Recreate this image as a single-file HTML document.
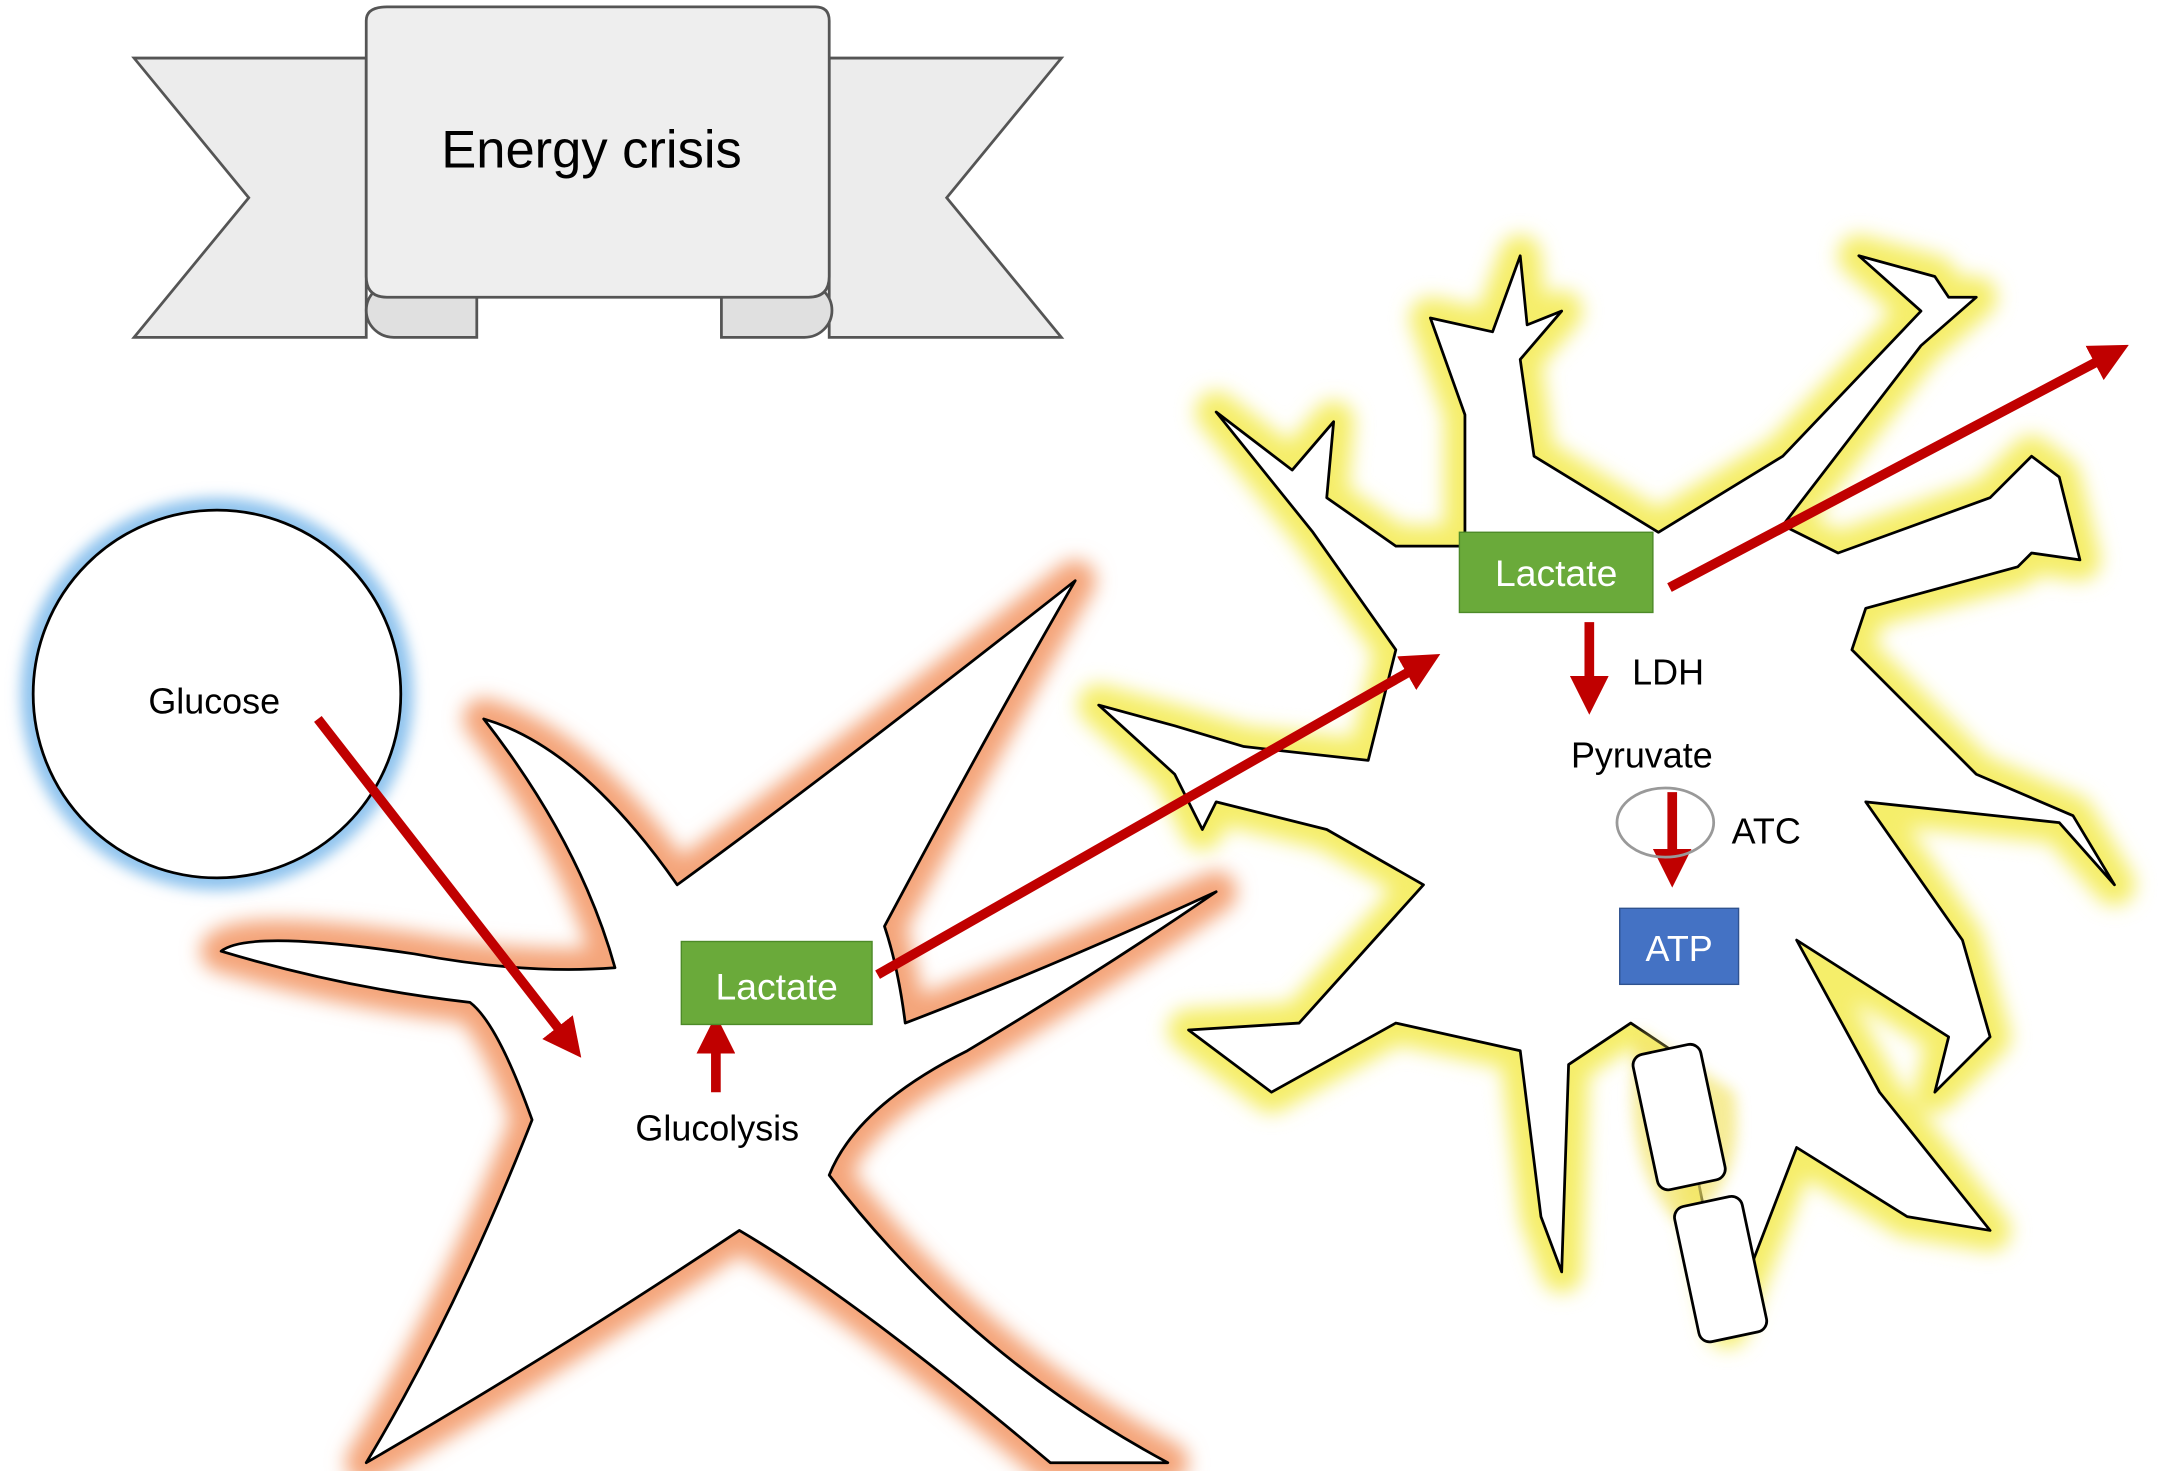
<!DOCTYPE html>
<html><head><meta charset="utf-8"><style>
html,body{margin:0;padding:0;background:#fff;}
svg{display:block;}
text{font-family:"Liberation Sans",sans-serif;}
</style></head><body>
<svg width="2167" height="1471" viewBox="0 0 1568 1064" preserveAspectRatio="none" xmlns="http://www.w3.org/2000/svg">
<defs>
<filter id="blur" x="-20%" y="-20%" width="140%" height="140%"><feGaussianBlur stdDeviation="7"/></filter>
<filter id="blur2" x="-20%" y="-20%" width="140%" height="140%"><feGaussianBlur stdDeviation="5"/></filter>
<marker id="ah" markerWidth="4" markerHeight="4" refX="2" refY="2" orient="auto" markerUnits="strokeWidth">
<path d="M0,0 L4,2 L0,4 Z" fill="#c00000"/></marker>
</defs>
<rect width="1568" height="1064" fill="#fff"/>

<!-- Banner -->
<polygon points="97,42 265,42 265,244 97,244 180,143" fill="#ececec" stroke="#555" stroke-width="2"/>
<polygon points="600,42 768,42 685,143 768,244 600,244" fill="#ececec" stroke="#555" stroke-width="2"/>
<path d="M285,205 L345,205 L345,244 L285,244 A20,19.5 0 0 1 285,205 Z" fill="#e0e0e0" stroke="#555" stroke-width="2"/>
<path d="M522,205 L582,205 A20,19.5 0 0 1 582,244 L522,244 Z" fill="#e0e0e0" stroke="#555" stroke-width="2"/>
<path d="M265,15 Q265,5 280,5 L590,5 Q600,5 600,15 L600,200 Q600,215 585,215 L280,215 Q265,215 265,200 Z" fill="#eeeeee" stroke="#555" stroke-width="2"/>
<text x="428" y="121" font-size="38" text-anchor="middle" fill="#000">Energy crisis</text>

<!-- Glucose -->
<circle cx="157" cy="502" r="133" fill="none" stroke="#8ec3ee" stroke-width="18" filter="url(#blur2)"/>
<circle cx="157" cy="502" r="133" fill="#fff" stroke="#000" stroke-width="2"/>
<text x="155" y="516" font-size="26" text-anchor="middle">Glucose</text>

<!-- Astrocyte -->
<g stroke-linejoin="round">
<path d="M160,688 Q180,672 300,690 Q380,705 445,700 Q420,610 350,520 Q420,540 490,640 Q600,560 778,420 Q720,520 640,670 Q650,700 655,740 Q760,700 880,645 Q800,700 700,760 Q620,800 600,850 Q700,980 845,1058 L760,1058 Q620,940 535,890 Q400,980 265,1058 Q330,950 385,810 Q360,740 340,725 Q250,715 160,688 Z" fill="none" stroke="#f4a57a" stroke-width="30" filter="url(#blur)"/>
<path d="M160,688 Q180,672 300,690 Q380,705 445,700 Q420,610 350,520 Q420,540 490,640 Q600,560 778,420 Q720,520 640,670 Q650,700 655,740 Q760,700 880,645 Q800,700 700,760 Q620,800 600,850 Q700,980 845,1058 L760,1058 Q620,940 535,890 Q400,980 265,1058 Q330,950 385,810 Q360,740 340,725 Q250,715 160,688 Z" fill="#fff" stroke="#000" stroke-width="2"/>
</g>

<!-- Neuron -->
<g stroke-linejoin="round">
<path d="M1010,470 L950,385 L880,298 L935,340 L965,305 L960,360 L1010,395 L1060,395 L1060,300 L1035,230 L1080,240 L1100,185 L1105,235 L1130,225 L1100,260 L1110,330 L1200,385 L1290,330 L1390,225 L1345,185 L1400,200 L1410,215 L1430,215 L1390,250 L1290,380 L1330,400 L1440,360 L1470,330 L1490,345 L1505,405 L1470,400 L1460,410 L1350,440 L1340,470 L1430,560 L1500,590 L1530,640 L1490,595 L1350,580 L1420,680 L1440,750 L1400,790 L1410,750 L1300,680 L1360,790 L1440,890 L1380,880 L1300,830 L1250,960 L1210,760 L1180,740 L1135,770 L1130,920 L1115,880 L1100,760 L1010,740 L920,790 L860,745 L940,740 L1030,640 L960,600 L880,580 L870,600 L850,560 L795,510 L850,525 L900,540 L990,550 Z" fill="none" stroke="#f5ee6a" stroke-width="30" filter="url(#blur)"/>
<path d="M1010,470 L950,385 L880,298 L935,340 L965,305 L960,360 L1010,395 L1060,395 L1060,300 L1035,230 L1080,240 L1100,185 L1105,235 L1130,225 L1100,260 L1110,330 L1200,385 L1290,330 L1390,225 L1345,185 L1400,200 L1410,215 L1430,215 L1390,250 L1290,380 L1330,400 L1440,360 L1470,330 L1490,345 L1505,405 L1470,400 L1460,410 L1350,440 L1340,470 L1430,560 L1500,590 L1530,640 L1490,595 L1350,580 L1420,680 L1440,750 L1400,790 L1410,750 L1300,680 L1360,790 L1440,890 L1380,880 L1300,830 L1250,960 L1210,760 L1180,740 L1135,770 L1130,920 L1115,880 L1100,760 L1010,740 L920,790 L860,745 L940,740 L1030,640 L960,600 L880,580 L870,600 L850,560 L795,510 L850,525 L900,540 L990,550 Z" fill="#fff" stroke="#000" stroke-width="2"/>
<path d="M1185,745 Q1170,840 1215,885 Q1265,860 1255,790 Z" fill="#f3e46a" opacity="0.7" filter="url(#blur2)"/>
<rect x="1190" y="758" width="50" height="100" rx="8" transform="rotate(-12 1215 808)" fill="#fff" stroke="#000" stroke-width="2"/>
<rect x="1220" y="868" width="50" height="100" rx="8" transform="rotate(-12 1245 918)" fill="#fff" stroke="#000" stroke-width="2"/>
</g>

<!-- Arrows -->
<g stroke="#c00000" stroke-width="7" fill="none" marker-end="url(#ah)">
<line x1="230" y1="520" x2="412" y2="754"/>
<line x1="518" y1="790" x2="518" y2="748"/>
<line x1="635" y1="705" x2="1030" y2="480"/>
<line x1="1208" y1="425" x2="1528" y2="256"/>
<line x1="1150" y1="450" x2="1150" y2="503"/>
<line x1="1210" y1="573" x2="1210" y2="628"/>
</g>
<ellipse cx="1205" cy="595" rx="35" ry="25" fill="none" stroke="#999" stroke-width="2"/>

<!-- Boxes -->
<rect x="493" y="681" width="138" height="60" fill="#6aaa3a" stroke="#4d8a28"/>
<text x="562" y="723" font-size="27" fill="#fff" text-anchor="middle">Lactate</text>
<rect x="1056" y="385" width="140" height="58" fill="#6aaa3a" stroke="#4d8a28"/>
<text x="1126" y="424" font-size="27" fill="#fff" text-anchor="middle">Lactate</text>
<rect x="1172" y="657" width="86" height="55" fill="#4472c4" stroke="#2f528f"/>
<text x="1215" y="695" font-size="26" fill="#fff" text-anchor="middle">ATP</text>

<text x="519" y="825" font-size="26" text-anchor="middle">Glucolysis</text>
<text x="1207" y="495" font-size="26" text-anchor="middle">LDH</text>
<text x="1188" y="555" font-size="26" text-anchor="middle">Pyruvate</text>
<text x="1278" y="610" font-size="26" text-anchor="middle">ATC</text>
</svg>
</body></html>
